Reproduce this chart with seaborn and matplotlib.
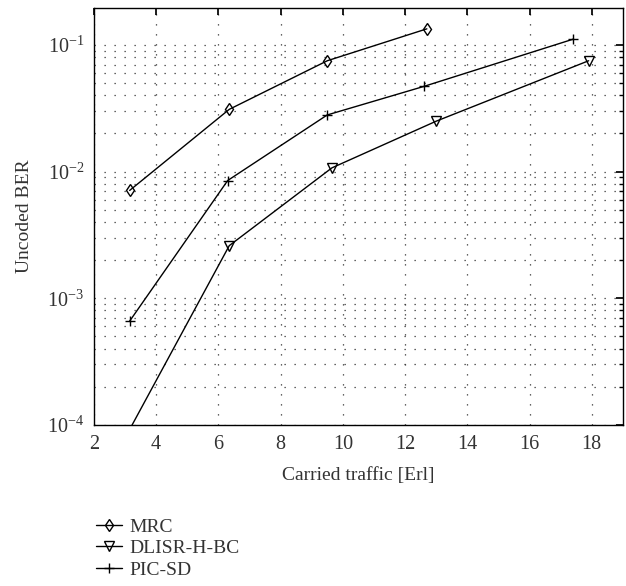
import numpy as np
import pandas as pd
import matplotlib
matplotlib.use('Agg')
import matplotlib.pyplot as plt
import seaborn as sns
from matplotlib.ticker import LogLocator, NullFormatter

sns.set_theme(style='white')
plt.rcParams['font.family'] = ['Liberation Serif', 'DejaVu Serif']
plt.rcParams['mathtext.fontset'] = 'stix'

# Data
mrc_x = [3.15, 6.35, 9.5, 12.7]
mrc_y = [0.0071, 0.031, 0.075, 0.134]

dlisr_x = [3.15, 6.35, 9.65, 13.0, 17.9]
dlisr_y = [0.000092, 0.0026, 0.0107, 0.025, 0.075]

pic_x = [3.15, 6.3, 9.5, 12.6, 17.4]
pic_y = [0.00066, 0.0085, 0.028, 0.047, 0.111]

labels = ['MRC', 'DLISR-H-BC', 'PIC-SD']
markers = ['d', 'v', '+']

series = [(mrc_x, mrc_y), (dlisr_x, dlisr_y), (pic_x, pic_y)]

fig = plt.figure(figsize=(6.26, 5.86), dpi=100)
ax = fig.add_axes([0.150, 0.275, 0.845, 0.711])

for (xs, ys), lab, mk in zip(series, labels, markers):
    d = pd.DataFrame({'traffic': xs, 'ber': ys})
    # the first DLISR point lies below the axis, only its line shows
    every = slice(1, None) if lab == 'DLISR-H-BC' else None
    sns.lineplot(data=d, x='traffic', y='ber', color='black', marker=mk,
                 markersize=6.5, markerfacecolor='none', markeredgecolor='black',
                 markeredgewidth=1.0, linewidth=1.0, sort=False, label=lab,
                 markevery=every, ax=ax)

ax.set_yscale('log')
ax.set_xlim(2, 19)
ax.set_ylim(1e-4, 0.195)
ax.set_xticks([2, 4, 6, 8, 10, 12, 14, 16, 18])
ax.yaxis.set_major_locator(LogLocator(base=10, numticks=10))
ax.yaxis.set_minor_locator(LogLocator(base=10, subs=np.arange(2, 10), numticks=20))
ax.yaxis.set_minor_formatter(NullFormatter())

dots = (0, (1, 7))
ax.grid(True, which='major', axis='both', linestyle=dots, color='#333333', linewidth=0.9)
ax.grid(True, which='minor', axis='y', linestyle=dots, color='#333333', linewidth=0.9)

ax.tick_params(which='both', direction='in', top=True, right=True, labelsize=14.5,
               colors='#333333', pad=7)
ax.tick_params(which='major', length=5, color='black')
ax.tick_params(which='minor', length=3, color='black')
for s in ax.spines.values():
    s.set_color('black')
    s.set_linewidth(1.0)

ax.set_xlabel('Carried traffic [Erl]', fontsize=14, color='#333333', labelpad=10)
ax.set_ylabel('Uncoded BER', fontsize=14, color='#333333', labelpad=10)

leg = ax.legend(loc='upper left', bbox_to_anchor=(-0.01, -0.205), frameon=False,
                fontsize=14, handlelength=1.3, handletextpad=0.4, labelspacing=0.2,
                borderaxespad=0)
for t in leg.get_texts():
    t.set_color('#333333')

fig.savefig('out.png', dpi=100)
